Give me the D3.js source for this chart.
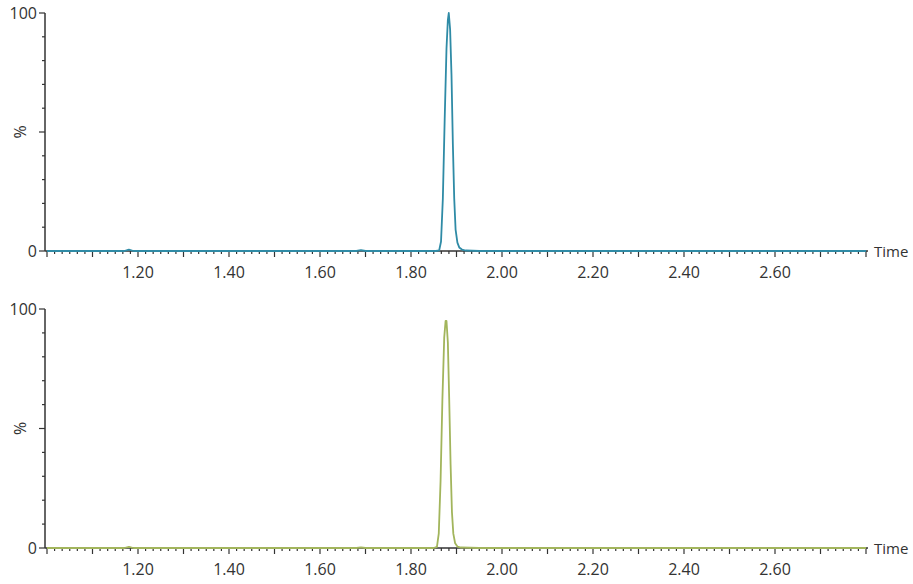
<!DOCTYPE html>
<html>
<head>
<meta charset="utf-8">
<script src="https://cdn.jsdelivr.net/npm/d3@7"></script>
<style>
  body { margin: 0; background: #fff; }
  text { font-family: "Open Sans", "DejaVu Sans", sans-serif; fill: #333; }
</style>
</head>
<body>
<svg id="chart" width="913" height="584"></svg>
<script>
// chromatogram traces (time in min, intensity in %)
var topTimes = [1.00, 1.10, 1.17, 1.18, 1.19, 1.30, 1.50, 1.68, 1.69, 1.70, 1.80, 1.855, 1.862, 1.866, 1.870, 1.874, 1.878, 1.881, 1.883, 1.886, 1.889, 1.892, 1.895, 1.898, 1.902, 1.906, 1.912, 1.92, 1.95, 2.10, 2.40, 2.60, 2.80];
var topValues = [0, 0, 0, 0.6, 0, 0, 0, 0, 0.4, 0, 0, 0, 0.3, 4, 22, 55, 85, 97, 100, 93, 74, 45, 22, 9, 3.5, 1.5, 0.6, 0.2, 0, 0, 0, 0, 0];

var bottomTimes = [1.00, 1.10, 1.17, 1.18, 1.19, 1.30, 1.50, 1.68, 1.69, 1.70, 1.80, 1.850, 1.857, 1.861, 1.865, 1.869, 1.873, 1.876, 1.878, 1.881, 1.884, 1.887, 1.890, 1.893, 1.897, 1.902, 1.91, 1.95, 2.10, 2.40, 2.60, 2.80];
var bottomValues = [0, 0, 0, 0.5, 0, 0, 0, 0, 0.3, 0, 0, 0, 0.5, 6, 28, 62, 88, 95, 95, 86, 62, 35, 15, 6, 2, 0.6, 0.2, 0, 0, 0, 0, 0];

var xLabels = [1.20, 1.40, 1.60, 1.80, 2.00, 2.20, 2.40, 2.60];
var yLabels = [0, 50, 100];

var panels = [
  { times: topTimes, values: topValues, color: "#2f8ba6", top: 13, bottom: 251 },
  { times: bottomTimes, values: bottomValues, color: "#a2b55c", top: 309, bottom: 548 }
];

var svg = d3.select("#chart");
var axisLeft = 45, axisRight = 868;
var x = d3.scaleLinear().domain([1.0, 2.8]).range([47, 866]);

panels.forEach(function(p) {
  var y = d3.scaleLinear().domain([0, 100]).range([p.bottom, p.top]);
  var g = svg.append("g");

  // y axis line
  g.append("line")
    .attr("x1", axisLeft).attr("x2", axisLeft)
    .attr("y1", y(100)).attr("y2", y(0))
    .attr("stroke", "#333").attr("stroke-width", 1.5);

  // y ticks every 10, longer at 0/50/100
  g.selectAll(".ytick")
    .data(d3.range(0, 101, 10))
    .enter().append("line")
    .attr("x1", function(d) { return yLabels.indexOf(d) >= 0 ? axisLeft - 6 : axisLeft - 3; })
    .attr("x2", axisLeft)
    .attr("y1", function(d) { return y(d); })
    .attr("y2", function(d) { return y(d); })
    .attr("stroke", "#333").attr("stroke-width", 1.2);

  g.selectAll(".ylab")
    .data(yLabels.filter(function(d) { return d != 50; }))
    .enter().append("text")
    .attr("x", axisLeft - 8)
    .attr("y", function(d) { return y(d); })
    .attr("dy", "0.35em")
    .attr("text-anchor", "end")
    .attr("font-size", 16)
    .text(function(d) { return d; });

  g.append("text")
    .attr("transform", "translate(" + (axisLeft - 19) + "," + y(50) + ") rotate(-90)")
    .attr("text-anchor", "middle")
    .attr("font-size", 16)
    .text("%");

  // x axis line
  g.append("line")
    .attr("x1", axisLeft).attr("x2", axisRight)
    .attr("y1", y(0)).attr("y2", y(0))
    .attr("stroke", "#333").attr("stroke-width", 1.5);

  // x ticks: one second apart, longer every 0.1 min
  var secs = d3.range(60, 169);
  g.selectAll(".xtick")
    .data(secs)
    .enter().append("line")
    .attr("x1", function(d) { return x(d / 60); })
    .attr("x2", function(d) { return x(d / 60); })
    .attr("y1", y(0))
    .attr("y2", function(d) { return d % 6 == 0 ? y(0) + 6 : y(0) + 3; })
    .attr("stroke", "#333").attr("stroke-width", 1.2);

  g.selectAll(".xlab")
    .data(xLabels)
    .enter().append("text")
    .attr("x", function(d) { return x(d); })
    .attr("y", y(0) + 27)
    .attr("text-anchor", "middle")
    .attr("font-size", 16)
    .text(function(d) { return d.toFixed(2); });

  g.append("text")
    .attr("x", axisRight + 6)
    .attr("y", y(0) + 6)
    .attr("font-size", 15)
    .attr("font-family", "'DejaVu Sans Condensed', 'Liberation Sans Narrow', sans-serif")
    .text("Time");

  var line = d3.line()
    .x(function(d, i) { return x(p.times[i]); })
    .y(function(d) { return y(d); });

  g.append("path")
    .datum(p.values)
    .attr("d", line)
    .attr("fill", "none")
    .attr("stroke", p.color)
    .attr("stroke-width", 1.8)
    .attr("stroke-linejoin", "round");
});
</script>
</body>
</html>
